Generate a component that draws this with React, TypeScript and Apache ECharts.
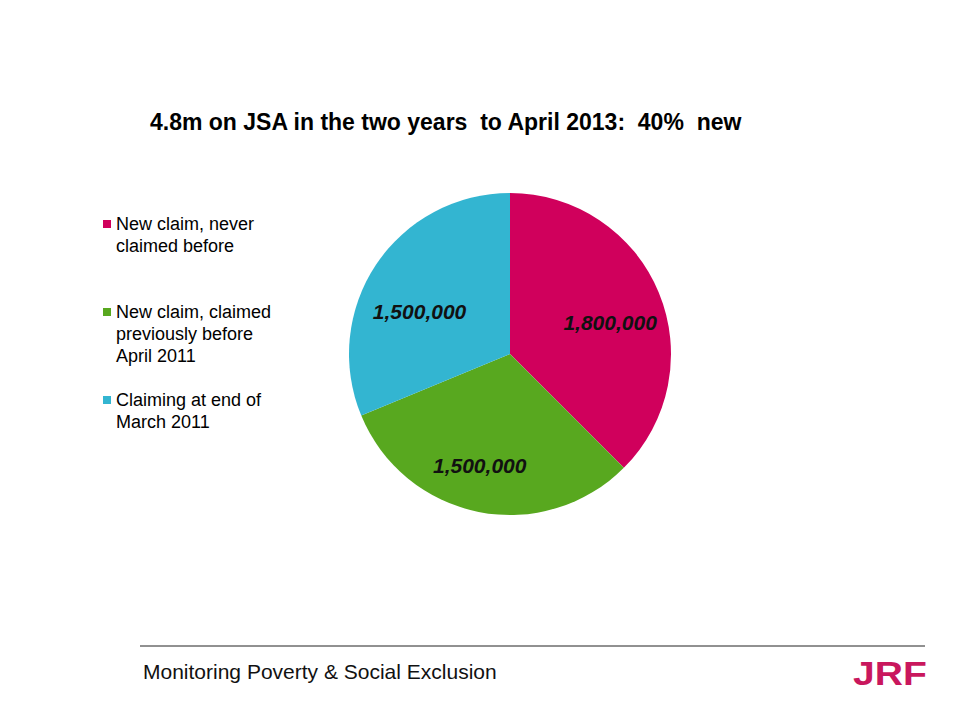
import React, { useEffect, useRef } from "react";
import * as echarts from "echarts";

const TITLE = "4.8m on JSA in the two years  to April 2013:  40%  new";
const categories = [
  "New claim, never claimed before",
  "New claim, claimed previously before April 2011",
  "Claiming at end of March 2011",
];
const legendLabels = [
  "\nNew claim, never\nclaimed before",
  "\n\nNew claim, claimed\npreviously before\nApril 2011",
  "\nClaiming at end of\nMarch 2011",
];
const values = [1800000, 1500000, 1500000];
const colors = ["#D0005C", "#58A81F", "#33B5D1"];
const labelOffsets = [
  [23, 0],
  [-14, 30],
  [-21, 4],
];
const FOOTER = "Monitoring Poverty & Social Exclusion";
const FONT = "'Liberation Sans', Arial, sans-serif";

export default function App() {
  const ref = useRef<HTMLDivElement>(null);
  useEffect(() => {
    if (!ref.current) return;
    const chart = echarts.init(ref.current, undefined, { renderer: "svg" });
    const legendMap: Record<string, string> = {};
    categories.forEach((c, i) => (legendMap[c] = legendLabels[i]));
    chart.setOption({
      animation: false,
      backgroundColor: "#ffffff",
      title: {
        text: TITLE,
        left: 142,
        top: 102,
        padding: 0,
        textStyle: { fontFamily: FONT, fontSize: 23, fontWeight: "bold", color: "#000" },
      },
      legend: {
        orient: "vertical",
        left: 95,
        top: 183,
        padding: 0,
        itemGap: 0,
        itemWidth: 8,
        itemHeight: 8,
        icon: "rect",
        selectedMode: false,
        data: categories,
        formatter: (name: string) => legendMap[name],
        textStyle: { fontFamily: FONT, fontSize: 18, color: "#000", lineHeight: 22 },
      },
      series: [
        {
          type: "pie",
          center: [502, 346],
          radius: 161,
          startAngle: 90,
          clockwise: true,
          silent: true,
          itemStyle: { borderWidth: 0 },
          label: {
            show: true,
            position: "inside",
            formatter: (p: any) => p.value.toLocaleString("en-US"),
            fontFamily: FONT,
            fontSize: 21,
            fontWeight: "bold",
            fontStyle: "italic",
            color: "#111",
          },
          labelLine: { show: false },
          data: categories.map((c, i) => ({
            name: c,
            value: values[i],
            itemStyle: { color: colors[i] },
            label: { offset: labelOffsets[i] },
          })),
        },
      ],
      graphic: [
        {
          type: "line",
          shape: { x1: 132, y1: 638, x2: 917, y2: 638 },
          style: { stroke: "#222", lineWidth: 1 },
        },
        {
          type: "text",
          left: 135,
          top: 653,
          style: { text: FOOTER, font: `21px ${FONT}`, fill: "#111" },
        },
        {
          type: "text",
          x: 845,
          y: 648,
          scaleX: 1.15,
          style: { text: "JRF", font: `bold 34px ${FONT}`, fill: "#C9175D", textVerticalAlign: "top" },
        },
      ],
    });
    return () => chart.dispose();
  }, []);
  return <div ref={ref} style={{ width: 944, height: 704 }} />;
}
